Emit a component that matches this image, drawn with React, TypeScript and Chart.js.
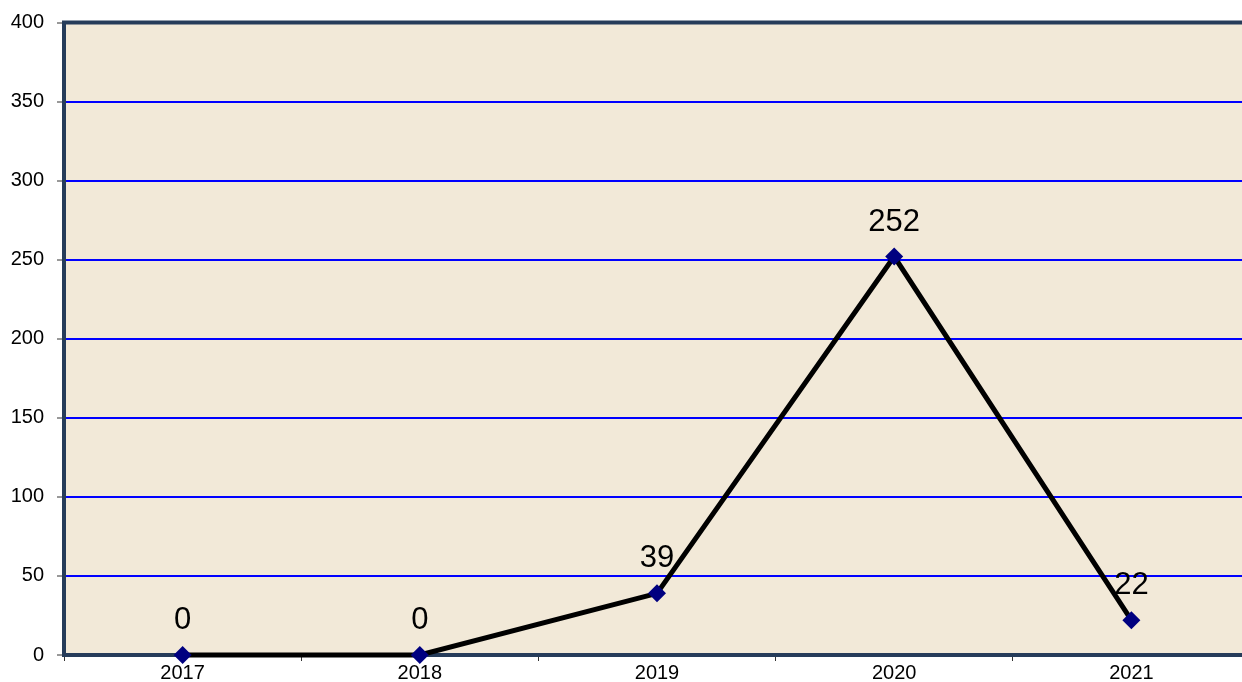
import React, { useEffect, useRef } from "react";
import { Chart, registerables } from "chart.js";
Chart.register(...registerables);

const categories = ["2017", "2018", "2019", "2020", "2021"];
const values = [0, 0, 39, 252, 22];
const yMin = 0;
const yMax = 400;
const yStep = 50;

const FONT = "'Liberation Sans', Arial, sans-serif";

const bgPlugin = {
  id: "bg",
  beforeDraw(chart: any) {
    const { ctx, chartArea: a } = chart;
    ctx.save();
    ctx.fillStyle = "#f2e9d8";
    ctx.fillRect(a.left, a.top, a.right - a.left, a.bottom - a.top);
    ctx.restore();
  },
};

const framePlugin = {
  id: "frame",
  beforeDatasetsDraw(chart: any) {
    const { ctx, chartArea: a } = chart;
    ctx.save();
    ctx.strokeStyle = "#263c5a";
    ctx.lineWidth = 4;
    ctx.strokeRect(a.left, a.top, a.right - a.left + 10, a.bottom - a.top);
    ctx.restore();
  },
};

const labelPlugin = {
  id: "valueLabels",
  afterDatasetsDraw(chart: any) {
    const { ctx } = chart;
    const meta = chart.getDatasetMeta(0);
    ctx.save();
    ctx.fillStyle = "#000";
    ctx.font = `31px ${FONT}`;
    ctx.textAlign = "center";
    ctx.textBaseline = "alphabetic";
    meta.data.forEach((pt: any, i: number) => {
      ctx.fillText(String(values[i]), pt.x, pt.y - 26);
    });
    ctx.restore();
  },
};

export default function App() {
  const ref = useRef<HTMLCanvasElement>(null);
  useEffect(() => {
    const chart = new Chart(ref.current!, {
      type: "line",
      data: {
        labels: categories,
        datasets: [
          {
            data: values,
            borderColor: "#000000",
            borderWidth: 5,
            tension: 0,
            pointStyle: "rectRot",
            pointRadius: 9,
            pointBackgroundColor: "#000080",
            pointBorderColor: "#000080",
            pointBorderWidth: 0,
            clip: false,
          } as any,
        ],
      },
      options: {
        responsive: false,
        animation: false,
        devicePixelRatio: 1,
        layout: { padding: { top: 22.5, left: 0, right: 0, bottom: 0 } },
        plugins: { legend: { display: false }, tooltip: { enabled: false } },
        scales: {
          x: {
            offset: true,
            grid: {
              offset: true,
              drawOnChartArea: false,
              tickLength: 6,
              tickColor: "#333333",
              tickWidth: 1,
            },
            border: { display: false },
            ticks: {
              color: "#000",
              font: { family: FONT, size: 20 },
              padding: 0,
              maxRotation: 0,
              autoSkip: false,
            },
            afterFit: (s: any) => {
              s.height = 27;
              s.paddingLeft = 0;
              s.paddingRight = 0;
            },
          },
          y: {
            min: yMin,
            max: yMax,
            grid: {
              color: "#0000ff",
              lineWidth: 2,
              tickLength: 7,
              tickColor: "#333333",
              tickWidth: 1,
            },
            border: { display: false },
            ticks: {
              stepSize: yStep,
              color: "#000",
              font: { family: FONT, size: 20 },
              padding: 13,
            },
            afterFit: (s: any) => {
              s.width = 64;
              s.paddingTop = 0;
              s.paddingBottom = 0;
            },
          },
        },
      },
      plugins: [bgPlugin, framePlugin, labelPlugin],
    });
    return () => chart.destroy();
  }, []);

  return (
    <div
      style={{
        position: "fixed",
        left: 0,
        top: 0,
        width: 1242,
        height: 682,
        overflow: "hidden",
        background: "#ffffff",
      }}
    >
      <div style={{ width: 1259, height: 682 }}>
        <canvas
          ref={ref}
          width={1259}
          height={682}
          style={{ display: "block", width: 1259, height: 682 }}
        />
      </div>
    </div>
  );
}
